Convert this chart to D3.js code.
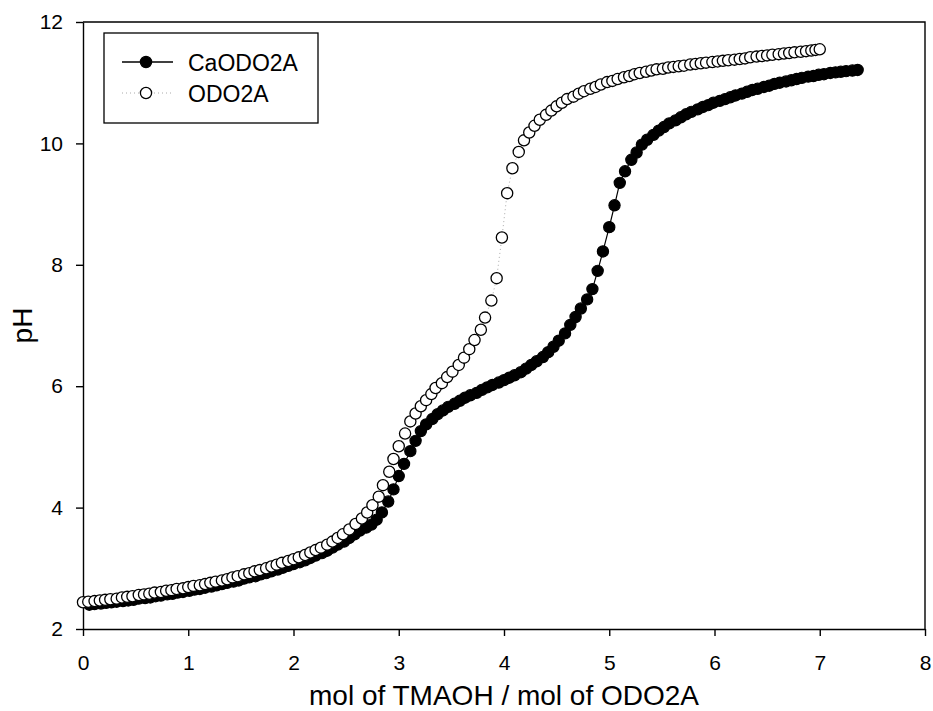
<!DOCTYPE html>
<html>
<head>
<meta charset="utf-8">
<script src="https://cdn.jsdelivr.net/npm/d3@7"></script>
<style>
  body { margin: 0; background: #fff; }
  text { font-family: Arial, "Liberation Sans", sans-serif; fill: #000; }
</style>
</head>
<body>
<div id="graph"></div>
<script>
// CaODO2A titration (filled circles, solid line)
var caX = [
  0.06, 0.11, 0.17, 0.22, 0.27, 0.32, 0.38, 0.43, 0.48, 0.53, 0.59, 0.64, 0.69, 0.74, 0.80, 0.85, 0.90, 0.95, 1.01, 1.06,
  1.11, 1.16, 1.22, 1.27, 1.32, 1.37, 1.43, 1.48, 1.53, 1.58, 1.64, 1.69, 1.74, 1.79, 1.85, 1.90, 1.95, 2.00, 2.06, 2.11,
  2.16, 2.21, 2.27, 2.32, 2.37, 2.42, 2.48, 2.53, 2.58, 2.63, 2.69, 2.74, 2.79, 2.84, 2.90, 2.95, 3.00, 3.05, 3.11, 3.16,
  3.21, 3.26, 3.32, 3.37, 3.42, 3.47, 3.53, 3.58, 3.63, 3.68, 3.74, 3.79, 3.84, 3.89, 3.95, 4.00, 4.05, 4.10, 4.16, 4.21,
  4.26, 4.31, 4.37, 4.42, 4.47, 4.52, 4.58, 4.63, 4.68, 4.73, 4.79, 4.84, 4.89, 4.94, 5.00, 5.05, 5.10, 5.15, 5.21, 5.26,
  5.31, 5.36, 5.42, 5.47, 5.52, 5.57, 5.63, 5.68, 5.73, 5.78, 5.84, 5.89, 5.94, 5.99, 6.05, 6.10, 6.15, 6.20, 6.26, 6.31,
  6.36, 6.41, 6.47, 6.52, 6.57, 6.62, 6.68, 6.73, 6.78, 6.83, 6.89, 6.94, 6.99, 7.04, 7.10, 7.15, 7.20, 7.25, 7.31, 7.36
];
var caPH = [
  2.40, 2.41, 2.42, 2.43, 2.44, 2.45, 2.46, 2.47, 2.48, 2.50, 2.51, 2.52, 2.54, 2.55, 2.57, 2.58, 2.60, 2.61, 2.63, 2.65,
  2.66, 2.68, 2.70, 2.72, 2.74, 2.76, 2.78, 2.80, 2.83, 2.85, 2.87, 2.90, 2.92, 2.95, 2.98, 3.01, 3.04, 3.07, 3.10, 3.13,
  3.17, 3.21, 3.25, 3.29, 3.34, 3.39, 3.44, 3.50, 3.56, 3.62, 3.67, 3.72, 3.80, 3.92, 4.10, 4.30, 4.52, 4.72, 4.93, 5.10,
  5.26, 5.37, 5.46, 5.54, 5.60, 5.66, 5.71, 5.76, 5.81, 5.85, 5.89, 5.94, 5.98, 6.02, 6.06, 6.10, 6.14, 6.18, 6.23, 6.29,
  6.35, 6.41, 6.48, 6.56, 6.65, 6.75, 6.87, 7.01, 7.14, 7.28, 7.43, 7.60, 7.90, 8.22, 8.62, 8.98, 9.35, 9.54, 9.73, 9.85,
  9.98, 10.06, 10.14, 10.21, 10.27, 10.33, 10.38, 10.43, 10.48, 10.52, 10.56, 10.60, 10.63, 10.67, 10.70, 10.73, 10.76, 10.79, 10.82, 10.85,
  10.88, 10.90, 10.93, 10.95, 10.98, 11.00, 11.02, 11.04, 11.06, 11.08, 11.10, 11.11, 11.13, 11.14, 11.16, 11.17, 11.18, 11.19, 11.20, 11.21
];

// ODO2A titration (open circles, dotted line)
var odoX = [
  0.00, 0.05, 0.11, 0.16, 0.21, 0.26, 0.32, 0.37, 0.42, 0.47, 0.53, 0.58, 0.63, 0.68, 0.74, 0.79, 0.84, 0.89, 0.95,
  1.00, 1.05, 1.11, 1.16, 1.21, 1.26, 1.32, 1.37, 1.42, 1.47, 1.53, 1.58, 1.63, 1.68, 1.74, 1.79, 1.84, 1.89, 1.95,
  2.00, 2.05, 2.11, 2.16, 2.21, 2.26, 2.32, 2.37, 2.42, 2.47, 2.53,
  2.59, 2.65, 2.70, 2.75, 2.81, 2.85, 2.91, 2.95, 3.00, 3.06, 3.11, 3.16, 3.21, 3.26, 3.31, 3.35, 3.41, 3.46, 3.51, 3.57,
  3.62, 3.67, 3.72, 3.78, 3.82, 3.88, 3.93, 3.98, 4.03, 4.08, 4.14, 4.19, 4.24, 4.29, 4.34, 4.40, 4.45, 4.50, 4.55, 4.60,
  4.66, 4.71, 4.76, 4.82, 4.87, 4.92, 4.98, 5.03, 5.08, 5.14, 5.19, 5.24, 5.29, 5.35, 5.40, 5.45, 5.51, 5.56, 5.61, 5.66,
  5.71, 5.77, 5.82, 5.87, 5.92, 5.98, 6.03, 6.08, 6.13, 6.19, 6.24, 6.29, 6.34, 6.40, 6.45, 6.50, 6.55, 6.61, 6.66, 6.71,
  6.76, 6.82, 6.87, 6.92, 6.96, 7.00
];
var odoPH = [
  2.44, 2.45, 2.46, 2.47, 2.48, 2.49, 2.50, 2.52, 2.53, 2.54, 2.56, 2.57, 2.58, 2.60, 2.61, 2.63, 2.64, 2.66, 2.67,
  2.69, 2.71, 2.72, 2.74, 2.76, 2.78, 2.80, 2.82, 2.85, 2.87, 2.90, 2.92, 2.95, 2.97, 3.00, 3.03, 3.06, 3.09, 3.12,
  3.15, 3.18, 3.22, 3.26, 3.30, 3.34, 3.39, 3.44, 3.50, 3.56, 3.64,
  3.73, 3.82, 3.92, 4.04, 4.18, 4.37, 4.59, 4.80, 5.01, 5.22, 5.42, 5.55, 5.67, 5.77, 5.87, 5.97, 6.05, 6.15, 6.24, 6.35,
  6.47, 6.61, 6.76, 6.93, 7.13, 7.41, 7.78, 8.45, 9.18, 9.59, 9.86, 10.05, 10.18, 10.29, 10.39, 10.47, 10.54, 10.61, 10.67, 10.73,
  10.77, 10.82, 10.86, 10.90, 10.93, 10.97, 11.01, 11.03, 11.06, 11.09, 11.11, 11.14, 11.16, 11.18, 11.20, 11.22, 11.23, 11.25, 11.26, 11.27,
  11.28, 11.30, 11.31, 11.32, 11.33, 11.34, 11.35, 11.36, 11.37, 11.38, 11.39, 11.40, 11.42, 11.43, 11.44, 11.45, 11.46, 11.47, 11.48, 11.49,
  11.50, 11.51, 11.52, 11.53, 11.54, 11.55
];

var xTicks = [0, 1, 2, 3, 4, 5, 6, 7, 8];
var yTicks = [2, 4, 6, 8, 10, 12];
var seriesNames = ["CaODO2A", "ODO2A"];

var margin = { top: 22, right: 8, bottom: 82, left: 83 },
  width = 933 - margin.left - margin.right,
  height = 711 - margin.top - margin.bottom;

var svg = d3
  .select("#graph")
  .append("svg")
  .attr("width", 933)
  .attr("height", 711)
  .append("g")
  .attr("transform", "translate(" + margin.left + "," + margin.top + ")");

var x = d3.scaleLinear().domain([0, 8]).range([0, width]);
var y = d3.scaleLinear().domain([2, 12]).range([height, 0]);

var ca = caX.map(function (d, i) { return [d, caPH[i]]; });
var odo = odoX.map(function (d, i) { return [d, odoPH[i]]; });

var line = d3.line()
  .x(function (d) { return x(d[0]); })
  .y(function (d) { return y(d[1]); });

var r = 5.6;

// frame (top + right)
svg.append("path")
  .attr("d", "M0,0H" + width + "V" + height)
  .attr("fill", "none")
  .attr("stroke", "#000")
  .attr("stroke-width", 1.4);

// axes
var xAxis = svg.append("g")
  .attr("transform", "translate(0," + height + ")")
  .call(d3.axisBottom(x).tickValues(xTicks).tickSize(7).tickSizeOuter(0).tickPadding(19).tickFormat(d3.format("d")));
var yAxis = svg.append("g")
  .call(d3.axisLeft(y).tickValues(yTicks).tickSize(7).tickSizeOuter(0).tickPadding(13).tickFormat(d3.format("d")));

[xAxis, yAxis].forEach(function (a) {
  a.select(".domain").attr("stroke-width", 1.4);
  a.selectAll(".tick line").attr("stroke-width", 1.4);
  a.selectAll("text").style("font-size", "21px").style("font-family", "Arial, 'Liberation Sans', sans-serif");
});

// axis titles
svg.append("text")
  .attr("x", width / 2)
  .attr("y", 683)
  .attr("text-anchor", "middle")
  .style("font-size", "28px")
  .text("mol of TMAOH / mol of ODO2A");

svg.append("text")
  .attr("transform", "translate(-51," + height / 2 + ") rotate(-90)")
  .attr("text-anchor", "middle")
  .style("font-size", "28px")
  .text("pH");

// CaODO2A
svg.append("path")
  .datum(ca)
  .attr("fill", "none")
  .attr("stroke", "#000")
  .attr("stroke-width", 1.2)
  .attr("d", line);

svg.append("g")
  .selectAll("circle")
  .data(ca)
  .enter()
  .append("circle")
  .attr("cx", function (d) { return x(d[0]); })
  .attr("cy", function (d) { return y(d[1]); })
  .attr("r", r)
  .attr("fill", "#000")
  .attr("stroke", "#000")
  .attr("stroke-width", 1.2);

// ODO2A
svg.append("path")
  .datum(odo)
  .attr("fill", "none")
  .attr("stroke", "#aaa")
  .attr("stroke-width", 1)
  .attr("stroke-dasharray", "1,3")
  .attr("d", line);

svg.append("g")
  .selectAll("circle")
  .data(odo)
  .enter()
  .append("circle")
  .attr("cx", function (d) { return x(d[0]); })
  .attr("cy", function (d) { return y(d[1]); })
  .attr("r", r)
  .attr("fill", "#fff")
  .attr("stroke", "#000")
  .attr("stroke-width", 1.3);

// legend
var legend = svg.append("g").attr("transform", "translate(21,11)");
legend.append("rect")
  .attr("width", 214)
  .attr("height", 90)
  .attr("fill", "#fff")
  .attr("stroke", "#000")
  .attr("stroke-width", 1.3);

var rows = legend.selectAll("g.row")
  .data(seriesNames)
  .enter()
  .append("g")
  .attr("class", "row")
  .attr("transform", function (d, i) { return "translate(0," + (29 + i * 31) + ")"; });

rows.append("line")
  .attr("x1", 18).attr("x2", 69)
  .attr("stroke", function (d, i) { return i === 0 ? "#000" : "#aaa"; })
  .attr("stroke-width", function (d, i) { return i === 0 ? 1.3 : 1; })
  .attr("stroke-dasharray", function (d, i) { return i === 0 ? null : "1,3"; });

rows.append("circle")
  .attr("cx", 42)
  .attr("r", r)
  .attr("fill", function (d, i) { return i === 0 ? "#000" : "#fff"; })
  .attr("stroke", "#000")
  .attr("stroke-width", 1.3);

rows.append("text")
  .attr("x", 84)
  .attr("y", 8.5)
  .style("font-size", "23px")
  .text(function (d) { return d; });
</script>
</body>
</html>
